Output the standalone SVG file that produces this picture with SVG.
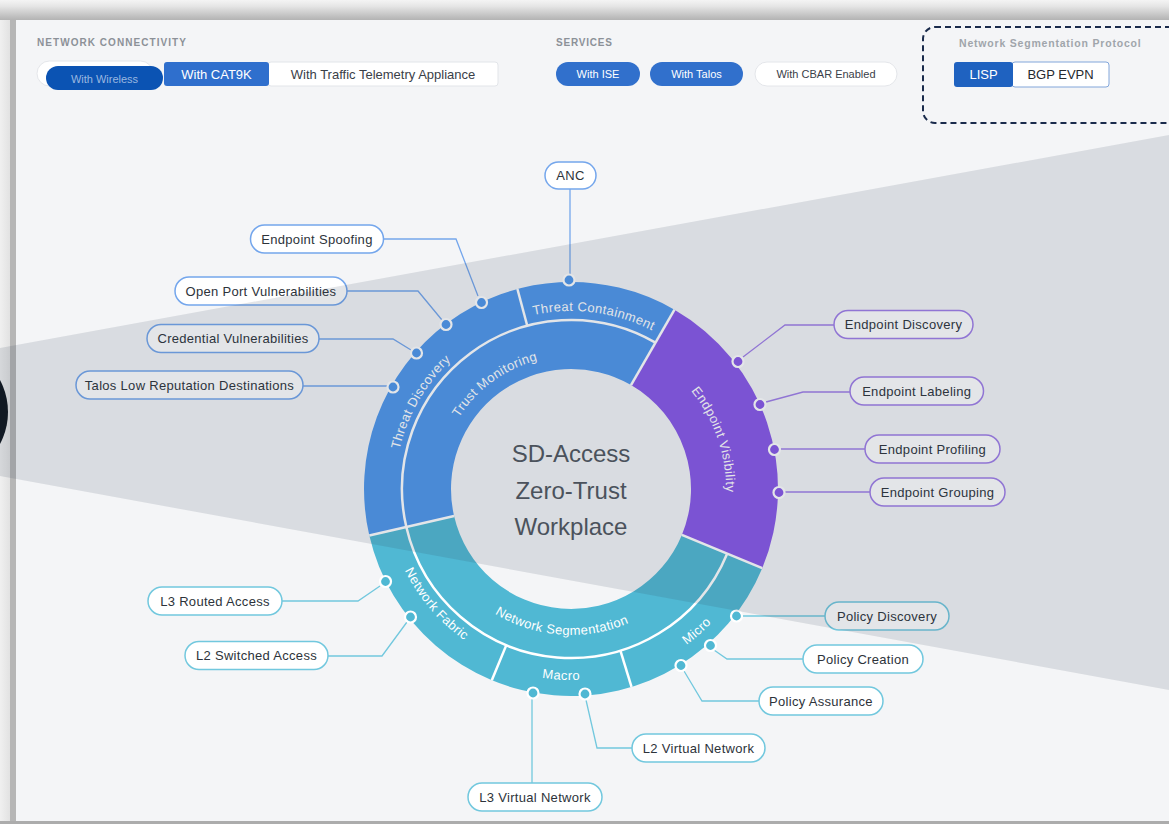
<svg xmlns="http://www.w3.org/2000/svg" width="1169" height="824" viewBox="0 0 1169 824">
<style>
.hdr{font-family:"Liberation Sans",Arial,sans-serif;font-weight:bold;font-size:10px;letter-spacing:1.05px;fill:#8c9198}
.btn{font-family:"Liberation Sans",Arial,sans-serif;text-anchor:middle}
.pl rect{fill:#ffffff;stroke-width:1.5}
.pl text{font-family:"Liberation Sans",Arial,sans-serif;font-size:13px;letter-spacing:0.3px;fill:#2d333a;text-anchor:middle}
.tb rect{stroke:#74a6ec}
.pu rect{stroke:#a07ee8}
.te rect{stroke:#72c8de}
.rl{font-family:"Liberation Sans",Arial,sans-serif;font-size:13px;letter-spacing:0.4px;fill:#ffffff;text-anchor:middle}
.ctr{font-family:"Liberation Sans",Arial,sans-serif;font-size:24px;fill:#50565e;text-anchor:middle}
.sep{fill:none;stroke:#ffffff;stroke-width:2.5}
.cn{fill:none;stroke-width:1.3}
.cb{stroke:#74a6ec}
.cp{stroke:#a07ee8}
.ct{stroke:#72c8de}
.dot{stroke:#ffffff;stroke-width:2.2}
</style>
<defs>
<linearGradient id="gTop" x1="0" y1="0" x2="0" y2="1">
<stop offset="0" stop-color="#f4f4f4"/><stop offset="0.3" stop-color="#e6e6e6"/><stop offset="1" stop-color="#b3b3b3"/>
</linearGradient>
<linearGradient id="gLeft" x1="0" y1="0" x2="1" y2="0">
<stop offset="0" stop-color="#f0f0f0"/><stop offset="1" stop-color="#e2e2e2"/>
</linearGradient>
<path id="p-tc" d="M482,334.85 A178,178 0 0 1 696.86,363.14"/>
<path id="p-td" d="M405.61,549.19 A176,176 0 0 1 540.44,315.67"/>
<path id="p-tm" d="M438.73,502.9 A133,133 0 0 1 625.1,367.5"/>
<path id="p-ev" d="M613.72,340 A155,155 0 0 1 696.4,580.11"/>
<path id="p-ns" d="M430.66,529.24 A146,146 0 0 0 704.38,548.38"/>
<path id="p-nf" d="M386,490.61 A185,185 0 0 0 540.47,671.46"/>
<path id="p-ma" d="M496.37,664.82 A191,191 0 0 0 626.84,671.65"/>
<path id="p-mi" d="M627.72,674.52 A194,194 0 0 0 748.23,567.91"/>
</defs>

<!-- background and screenshot frame -->
<rect x="0" y="0" width="1169" height="824" fill="#f4f5f7"/>
<rect x="0" y="0" width="1169" height="20" fill="url(#gTop)"/>
<rect x="0" y="20" width="10" height="804" fill="url(#gLeft)"/>
<rect x="10" y="20" width="6" height="804" fill="#b6b6b6"/>
<rect x="0" y="821" width="1169" height="3" fill="#acacac"/>

<!-- header: network connectivity -->
<g id="hdr-connectivity">
<text class="hdr" x="37" y="46">NETWORK CONNECTIVITY</text>
<rect x="37" y="61" width="116" height="25" rx="12.5" fill="#ffffff" stroke="#e4e6ea"/>
<rect x="46" y="66" width="117" height="24" rx="12" fill="#0b53b3"/>
<text class="btn" x="104.5" y="82.5" font-size="11" fill="#9ab7e0">With Wireless</text>
<rect x="268" y="62" width="230" height="24" rx="3" fill="#ffffff" stroke="#e2e5e9"/>
<rect x="164" y="62" width="105" height="24" rx="3" fill="#2f6fcd"/>
<text class="btn" x="216.5" y="78.5" font-size="13" fill="#ffffff">With CAT9K</text>
<text class="btn" x="383" y="78.5" font-size="13" fill="#3a4048">With Traffic Telemetry Appliance</text>
</g>

<g id="hdr-services">
<text class="hdr" x="556" y="46" style="letter-spacing:0.8px">SERVICES</text>
<rect x="556" y="62" width="84" height="24" rx="12" fill="#3170cc"/>
<text class="btn" x="598" y="78" font-size="11" fill="#ffffff">With ISE</text>
<rect x="650" y="62" width="93" height="24" rx="12" fill="#3170cc"/>
<text class="btn" x="696.5" y="78" font-size="11" fill="#ffffff">With Talos</text>
<rect x="755" y="62" width="142" height="24" rx="12" fill="#ffffff" stroke="#e4e6ea"/>
<text class="btn" x="826" y="78" font-size="11" fill="#3a4048">With CBAR Enabled</text>
</g>

<g id="hdr-protocol">
<rect x="923" y="27" width="270" height="96" rx="12" fill="none" stroke="#1a2b4c" stroke-width="2" stroke-dasharray="6 4"/>
<text class="hdr" x="959" y="47" style="font-size:10.5px;letter-spacing:0.8px;fill:#a0a5ab">Network Segmentation Protocol</text>
<rect x="1012" y="62" width="97" height="25" rx="3" fill="#ffffff" stroke="#82a6da"/>
<rect x="954" y="62" width="59" height="25" rx="3" fill="#1f62c0"/>
<text class="btn" x="983.5" y="79" font-size="13" fill="#ffffff">LISP</text>
<text class="btn" x="1060.5" y="79" font-size="13" fill="#25292e">BGP EVPN</text>
</g>

<!-- ring -->
<g id="seg-threat">
<path d="M369.31,535.56 A207,207 0 0 1 674.5,309.73 L631,385.08 A120,120 0 0 0 454.08,515.99 Z" fill="#4f97eb"/>
</g>
<g id="seg-endpoint">
<path d="M674.5,309.73 A207,207 0 0 1 762.24,568.21 L681.87,534.92 A120,120 0 0 0 631,385.08 Z" fill="#8857e7"/>
</g>
<g id="seg-network">
<path d="M762.24,568.21 A207,207 0 0 1 369.31,535.56 L454.08,515.99 A120,120 0 0 0 681.87,534.92 Z" fill="#50b8d3"/>
</g>
<g id="ring-separators">
<path class="sep" d="M406.33,527.02 A169,169 0 0 1 655.5,342.64"/>
<path class="sep" d="M727.14,553.67 A169,169 0 0 1 406.33,527.02"/>
<path class="sep" d="M454.08,515.99 L369.31,535.56"/>
<path class="sep" d="M631,385.08 L674.5,309.73"/>
<path class="sep" d="M681.87,534.92 L762.24,568.21"/>
<path class="sep" d="M527.26,325.76 L517.42,289.05"/>
<path class="sep" d="M620.41,650.61 L631.52,686.95"/>
<path class="sep" d="M506.33,645.14 L491.79,680.24"/>
</g>
<g id="ring-labels">
<text class="rl"><textPath href="#p-tc" startOffset="50%">Threat Containment</textPath></text>
<text class="rl"><textPath href="#p-td" startOffset="50%">Threat Discovery</textPath></text>
<text class="rl"><textPath href="#p-tm" startOffset="50%">Trust Monitoring</textPath></text>
<text class="rl"><textPath href="#p-ev" startOffset="50%">Endpoint Visibility</textPath></text>
<text class="rl"><textPath href="#p-ns" startOffset="50%">Network Segmentation</textPath></text>
<text class="rl"><textPath href="#p-nf" startOffset="50%">Network Fabric</textPath></text>
<text class="rl"><textPath href="#p-ma" startOffset="50%">Macro</textPath></text>
<text class="rl"><textPath href="#p-mi" startOffset="50%">Micro</textPath></text>
</g>
<g id="center">
<text class="ctr" x="571" y="462">SD-Access</text>
<text class="ctr" x="571" y="498.5">Zero-Trust</text>
<text class="ctr" x="571" y="535">Workplace</text>
</g>

<!-- connectors -->
<g id="connectors">
<polyline class="cn cb" points="570,189 570,274"/>
<polyline class="cn cb" points="383.5,239 456,239 478,296"/>
<polyline class="cn cb" points="347,291 418,291 442,320"/>
<polyline class="cn cb" points="319,339 393,339 411,350"/>
<polyline class="cn cb" points="303,386 387,386"/>
<polyline class="cn cp" points="743,357 785,325 834,325"/>
<polyline class="cn cp" points="766,402 803,392 850,392"/>
<polyline class="cn cp" points="780,449 865,449"/>
<polyline class="cn cp" points="785,492 870,492"/>
<polyline class="cn ct" points="282,601 358,601 380,586"/>
<polyline class="cn ct" points="328,656 382,656 407,622"/>
<polyline class="cn ct" points="532,699 532,783"/>
<polyline class="cn ct" points="586,700 597,748 632,748"/>
<polyline class="cn ct" points="684,671 702,701 759,701"/>
<polyline class="cn ct" points="714,650 727,659 803,659"/>
<polyline class="cn ct" points="742,616 825,616"/>
<circle class="dot" cx="569" cy="280" r="5.5" fill="#4f97eb"/>
<circle class="dot" cx="481.5" cy="302.5" r="5.5" fill="#4f97eb"/>
<circle class="dot" cx="446" cy="324.5" r="5.5" fill="#4f97eb"/>
<circle class="dot" cx="416.5" cy="353" r="5.5" fill="#4f97eb"/>
<circle class="dot" cx="393" cy="387" r="5.5" fill="#4f97eb"/>
<circle class="dot" cx="738" cy="361.5" r="5.5" fill="#8857e7"/>
<circle class="dot" cx="760" cy="404.5" r="5.5" fill="#8857e7"/>
<circle class="dot" cx="774.5" cy="449.5" r="5.5" fill="#8857e7"/>
<circle class="dot" cx="779" cy="492.5" r="5.5" fill="#8857e7"/>
<circle class="dot" cx="385.5" cy="581.5" r="5.5" fill="#50b8d3"/>
<circle class="dot" cx="410.5" cy="617" r="5.5" fill="#50b8d3"/>
<circle class="dot" cx="533" cy="693" r="5.5" fill="#50b8d3"/>
<circle class="dot" cx="585" cy="694" r="5.5" fill="#50b8d3"/>
<circle class="dot" cx="681" cy="665.5" r="5.5" fill="#50b8d3"/>
<circle class="dot" cx="710.5" cy="645.5" r="5.5" fill="#50b8d3"/>
<circle class="dot" cx="736.5" cy="616" r="5.5" fill="#50b8d3"/>
</g>

<!-- label nodes -->
<g id="n-anc" class="pl tb"><rect x="545" y="162" width="51" height="27" rx="13.5"/><text x="570.5" y="180">ANC</text></g>
<g id="n-spoofing" class="pl tb"><rect x="250.5" y="225" width="133" height="28" rx="14"/><text x="317" y="243.5">Endpoint Spoofing</text></g>
<g id="n-openport" class="pl tb"><rect x="175" y="277" width="172" height="28" rx="14"/><text x="261" y="295.5">Open Port Vulnerabilities</text></g>
<g id="n-credential" class="pl tb"><rect x="147" y="324.5" width="172" height="28" rx="14"/><text x="233" y="343">Credential Vulnerabilities</text></g>
<g id="n-talos" class="pl tb"><rect x="76" y="371" width="227" height="28" rx="14"/><text x="189.5" y="389.5">Talos Low Reputation Destinations</text></g>
<g id="n-epdiscovery" class="pl pu"><rect x="834" y="310.5" width="139" height="28" rx="14"/><text x="903.5" y="329">Endpoint Discovery</text></g>
<g id="n-eplabeling" class="pl pu"><rect x="850" y="377" width="133.5" height="28" rx="14"/><text x="916.75" y="395.5">Endpoint Labeling</text></g>
<g id="n-epprofiling" class="pl pu"><rect x="865" y="435" width="135" height="28" rx="14"/><text x="932.5" y="453.5">Endpoint Profiling</text></g>
<g id="n-epgrouping" class="pl pu"><rect x="870" y="478" width="135" height="28" rx="14"/><text x="937.5" y="496.5">Endpoint Grouping</text></g>
<g id="n-l3routed" class="pl te"><rect x="148" y="587" width="134" height="28" rx="14"/><text x="215" y="605.5">L3 Routed Access</text></g>
<g id="n-l2switched" class="pl te"><rect x="185" y="641.5" width="143" height="28" rx="14"/><text x="256.5" y="660">L2 Switched Access</text></g>
<g id="n-l3virtual" class="pl te"><rect x="468" y="783" width="134" height="28" rx="14"/><text x="535" y="801.5">L3 Virtual Network</text></g>
<g id="n-l2virtual" class="pl te"><rect x="632" y="734" width="133" height="28" rx="14"/><text x="698.5" y="752.5">L2 Virtual Network</text></g>
<g id="n-polassurance" class="pl te"><rect x="759" y="687" width="124" height="28" rx="14"/><text x="821" y="705.5">Policy Assurance</text></g>
<g id="n-polcreation" class="pl te"><rect x="803" y="645" width="120" height="28" rx="14"/><text x="863" y="663.5">Policy Creation</text></g>
<g id="n-poldiscovery" class="pl te"><rect x="825" y="602" width="124" height="28" rx="14"/><text x="887" y="620.5">Policy Discovery</text></g>

<!-- spotlight overlay -->
<polygon points="0,348 1169,135 1169,690 0,476" fill="#2a3a50" fill-opacity="0.135"/>
<circle cx="-60" cy="412" r="68" fill="#111923"/>
</svg>
